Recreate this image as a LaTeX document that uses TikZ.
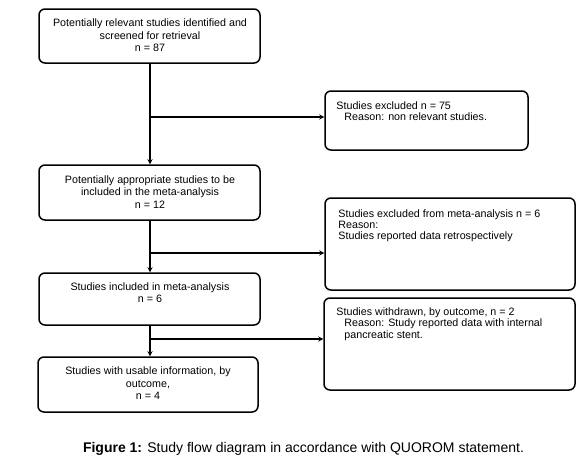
\documentclass[tikz,border=0pt]{standalone}
\usepackage{fontspec}
\setmainfont{Liberation Sans}
\usetikzlibrary{arrows.meta}
\begin{document}
\begin{tikzpicture}[x=1pt,y=-1pt,
  box/.style={draw=black, line width=1.5pt, rounded corners=6pt, inner sep=0pt},
  ctxt/.style={inner sep=0pt, align=center, font=\fontsize{10.7}{12.5}\selectfont},
  ltxt/.style={inner sep=0pt, align=left, anchor=north west, font=\fontsize{10.7}{11.2}\selectfont},
  arr/.style={line width=1.4pt, -{Stealth[length=5pt,width=5pt]}}]
\useasboundingbox (0,0) rectangle (582,463);
% boxes
\node[box, minimum width=221pt, minimum height=54pt] (b1) at (149.5,36) {};
\node[box, minimum width=203pt, minimum height=59pt] (b2) at (426.5,120.5) {};
\node[box, minimum width=221pt, minimum height=55pt] (b3) at (149.5,192.5) {};
\node[box, minimum width=250pt, minimum height=92pt] (b4) at (450,244) {};
\node[box, minimum width=221pt, minimum height=52pt] (b5) at (149.5,299) {};
\node[box, minimum width=251pt, minimum height=92pt] (b6) at (449.5,344) {};
\node[box, minimum width=220pt, minimum height=55pt] (b7) at (148,384.5) {};
% texts
\node[ctxt] (t1) at (150,35.5) {Potentially relevant studies identified and\\screened for retrieval\\n = 87};
\node[ctxt] (t3) at (150,192) {Potentially appropriate studies to be\\included in the meta-analysis\\n = 12};
\node[ctxt] (t5) at (150,292.5) {Studies included in meta-analysis\\n = 6};
\node[ctxt] (t7) at (148,383.5) {Studies with usable information, by\\outcome,\\n = 4};
\node[ltxt] (t2) at ([shift={(12pt,-11pt)}]b2.north west) {Studies excluded n = 75\\\hspace*{8pt}Reason: non relevant studies.};
\node[ltxt] (t4) at ([shift={(14pt,-12pt)}]b4.north west) {Studies excluded from meta-analysis n = 6\\Reason:\\Studies reported data retrospectively};
\node[ltxt] (t6) at ([shift={(13pt,-10.5pt)}]b6.north west) {Studies withdrawn, by outcome, n = 2\\\hspace*{8pt}Reason: Study reported data with internal\\\hspace*{8pt}pancreatic stent.};
% connectors
\coordinate (j1) at (150,117);
\coordinate (j2) at (150,253);
\coordinate (j3) at (150,339);
\draw[arr] (b1.south -| j1) -- (b3.north -| j1);
\draw[arr] (j1) -- (j1 -| b2.west);
\draw[arr] (b3.south -| j2) -- (b5.north -| j2);
\draw[arr] (j2) -- (j2 -| b4.west);
\draw[arr] (b5.south -| j3) -- (b7.north -| j3);
\draw[arr] (j3) -- (j3 -| b6.west);
% caption
\node[inner sep=0pt, font=\fontsize{14}{16}\selectfont] (cap) at (303.5,449) {\textbf{Figure 1:} Study flow diagram in accordance with QUOROM statement.};
\end{tikzpicture}
\end{document}
